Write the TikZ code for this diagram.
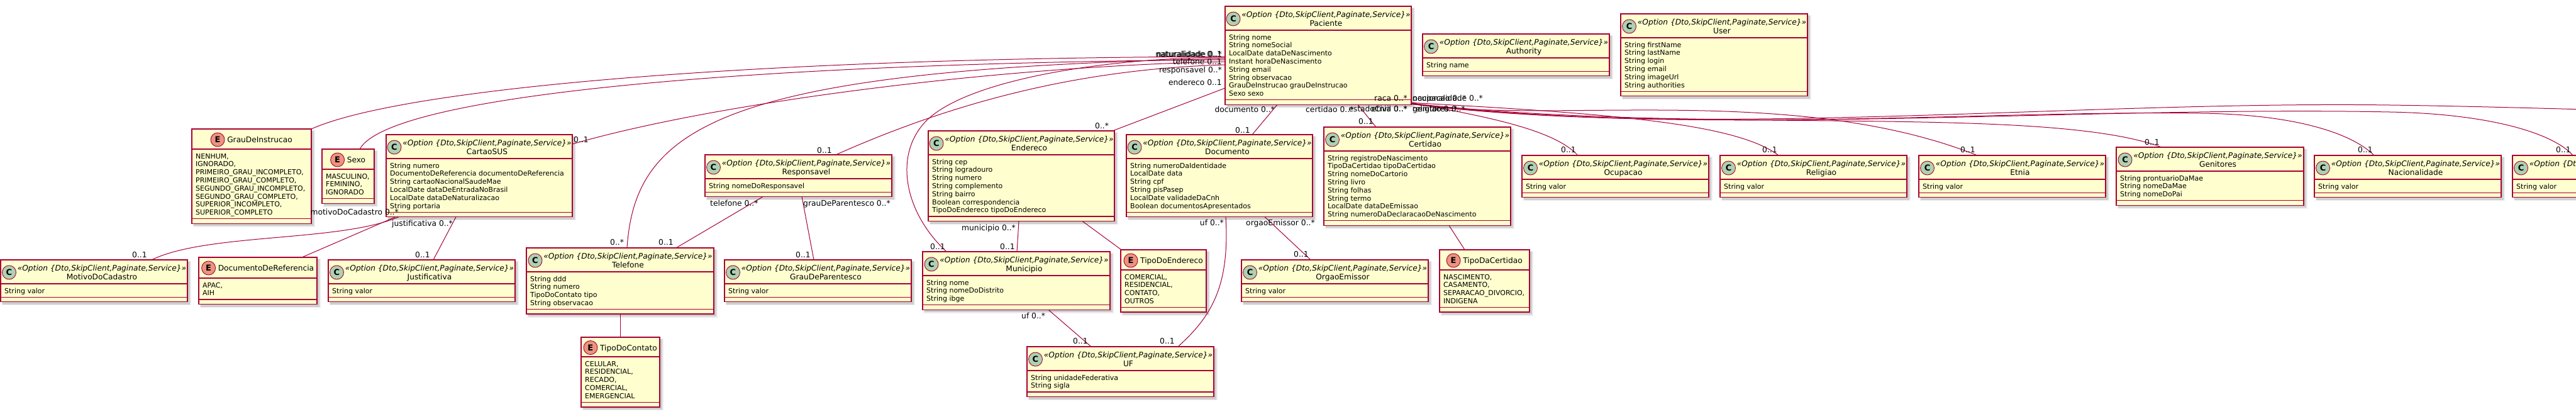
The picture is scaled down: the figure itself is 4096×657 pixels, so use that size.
\documentclass[tikz,border=0pt]{standalone}
\usepackage{fontspec}
\setmainfont{DejaVu Sans}
\usetikzlibrary{calc}
\definecolor{bord}{HTML}{A80036}
\definecolor{boxfill}{HTML}{FEFECE}
\definecolor{ciconc}{HTML}{ADD1B2}
\definecolor{eiconc}{HTML}{EB937F}
\newcommand{\fnfield}{\fontsize{11}{12.8}\selectfont}
\newcommand{\fnhead}{\fontsize{12.2}{14}\selectfont}
\newcommand{\fnlab}{\fontsize{12.3}{14}\selectfont}
\newcommand{\fnicon}{\fontsize{13}{13}\selectfont\bfseries}
\newcommand{\stereotxt}{«Option \{Dto,SkipClient,Paginate,Service\}»}
\pgfdeclarelayer{bg}
\pgfsetlayers{bg,main}
\tikzset{
  umlbox/.style={draw=bord, fill=boxfill, line width=1.4pt, inner sep=0pt, outer sep=0pt},
  divl/.style={draw=bord, line width=1.2pt},
  shadowa/.style={fill=black, opacity=0.07},
  shadowb/.style={fill=black, opacity=0.13},
  cic/.style={circle, draw=bord, line width=0.9pt, fill=ciconc, minimum size=22pt, inner sep=0pt, font=\fnicon},
  eic/.style={circle, draw=bord, line width=0.9pt, fill=eiconc, minimum size=22pt, inner sep=0pt, font=\fnicon},
  stereo/.style={font=\fnhead\itshape, inner sep=0pt},
  cname/.style={font=\fnhead, inner sep=0pt},
  fld/.style={font=\fnfield, inner sep=0pt},
  lab/.style={font=\fnlab, inner sep=0pt},
  assoc/.style={draw=bord, line width=1pt},
}
% id, x, y, w, header height, number of fields
\newcommand{\ubox}[6]{%
  \pgfmathsetmacro{\myBH}{#5+#6*12.8+15.9}%
  \fill[shadowa] (#2+2,#3+2) rectangle (#2+#4+5.5,#3+\myBH+5.5);
  \fill[shadowb] (#2+3,#3+3) rectangle (#2+#4+4,#3+\myBH+4);
  \node[umlbox, minimum width=#4pt, minimum height=\myBH pt, anchor=north west] (#1) at (#2,#3) {};
  \draw[divl] ($(#1.north west)+(0,#5)$) -- ($(#1.north east)+(0,#5)$);
  \draw[divl] ($(#1.south west)+(0,-7.5)$) -- ($(#1.south east)+(0,-7.5)$);
}
% class header: id, name
\newcommand{\chead}[2]{%
  \node[cic] (#1-ic) at ($(#1.north)+(-135,20)$) {C};
  \node[stereo, anchor=base] (#1-st) at ($(#1.north)+(12.5,17)$) {\stereotxt};
  \node[cname, anchor=base] (#1-nm) at ($(#1.north)+(12.5,31)$) {#2};
}
% enum header: id, name, center y offset
\newcommand{\ehead}[3]{%
  \node[cname, text height=9pt, text depth=0pt, anchor=center] (#1-nm) at ($(#1.north)+(13,#3)$) {#2};
  \node[eic] (#1-ic) at ($(#1-nm.west)+(-15,0)$) {E};
}
% fields: id, header height, lines
\newcommand{\ufields}[3]{%
  \node[fld, anchor=base west] (#1-f) at ($(#1.north west)+(6,#2+15)$) {\begin{tabular}[t]{@{}l@{}}#3\end{tabular}};
}
\begin{document}
\begin{tikzpicture}[x=1pt,y=-1pt]
\useasboundingbox (0,0) rectangle (4096,657);

\ubox{motivo}{1}{413}{297}{38}{1}
\chead{motivo}{MotivoDoCadastro}
\ufields{motivo}{38}{String valor}

\ubox{grau}{305}{205}{190}{32}{8}
\ehead{grau}{GrauDeInstrucao}{17}
\ufields{grau}{32}{NENHUM,\\IGNORADO,\\PRIMEIRO\_GRAU\_INCOMPLETO,\\PRIMEIRO\_GRAU\_COMPLETO,\\SEGUNDO\_GRAU\_INCOMPLETO,\\SEGUNDO\_GRAU\_COMPLETO,\\SUPERIOR\_INCOMPLETO,\\SUPERIOR\_COMPLETO}

\ubox{sexo}{512}{237}{83}{32}{3}
\ehead{sexo}{Sexo}{17}
\ufields{sexo}{32}{MASCULINO,\\FEMININO,\\IGNORADO}

\ubox{docref}{316}{409}{188}{33}{2}
\ehead{docref}{DocumentoDeReferencia}{17}
\ufields{docref}{33}{APAC,\\AIH}

\ubox{cartao}{614}{214}{296}{38}{6}
\chead{cartao}{CartaoSUS}
\ufields{cartao}{38}{String numero\\DocumentoDeReferencia documentoDeReferencia\\String cartaoNacionalSaudeMae\\LocalDate dataDeEntradaNoBrasil\\LocalDate dataDeNaturalizacao\\String portaria}

\ubox{justif}{522}{413}{297}{38}{1}
\chead{justif}{Justificativa}
\ufields{justif}{38}{String valor}

\ubox{telefone}{837}{394}{298}{38}{4}
\chead{telefone}{Telefone}
\ufields{telefone}{38}{String ddd\\String numero\\TipoDoContato tipo\\String observacao}

\ubox{tipocont}{924}{536}{125}{31}{5}
\ehead{tipocont}{TipoDoContato}{16.5}
\ufields{tipocont}{31}{CELULAR,\\RESIDENCIAL,\\RECADO,\\COMERCIAL,\\EMERGENCIAL}

\ubox{resp}{1121}{246}{297}{38}{1}
\chead{resp}{Responsavel}
\ufields{resp}{38}{String nomeDoResponsavel}

\ubox{grauparent}{1152}{413}{297}{38}{1}
\chead{grauparent}{GrauDeParentesco}
\ufields{grauparent}{38}{String valor}

\ubox{endereco}{1476}{208}{296}{38}{7}
\chead{endereco}{Endereco}
\ufields{endereco}{38}{String cep\\String logradouro\\String numero\\String complemento\\String bairro\\Boolean correspondencia\\TipoDoEndereco tipoDoEndereco}

\ubox{municipio}{1467}{400}{298}{38}{3}
\chead{municipio}{Municipio}
\ufields{municipio}{38}{String nome\\String nomeDoDistrito\\String ibge}

\ubox{tipoend}{1782}{397}{136}{32}{4}
\ehead{tipoend}{TipoDoEndereco}{17}
\ufields{tipoend}{32}{COMERCIAL,\\RESIDENCIAL,\\CONTATO,\\OUTROS}

\ubox{uf}{1633}{551}{297}{38}{2}
\chead{uf}{UF}
\ufields{uf}{38}{String unidadeFederativa\\String sigla}

\ubox{documento}{1791}{214}{296}{38}{6}
\chead{documento}{Documento}
\ufields{documento}{38}{String numeroDaIdentidade\\LocalDate data\\String cpf\\String pisPasep\\LocalDate validadeDaCnh\\Boolean documentosApresentados}

\ubox{paciente}{1948}{10}{296}{38}{8}
\chead{paciente}{Paciente}
\ufields{paciente}{38}{String nome\\String nomeSocial\\LocalDate dataDeNascimento\\Instant horaDeNascimento\\String email\\String observacao\\GrauDeInstrucao grauDeInstrucao\\Sexo sexo}

\ubox{orgao}{1974}{413}{297}{38}{1}
\chead{orgao}{OrgaoEmissor}
\ufields{orgao}{38}{String valor}

\ubox{certidao}{2105}{202}{297}{38}{8}
\chead{certidao}{Certidao}
\ufields{certidao}{38}{String registroDeNascimento\\TipoDaCertidao tipoDaCertidao\\String nomeDoCartorio\\String livro\\String folhas\\String termo\\LocalDate dataDeEmissao\\String numeroDaDeclaracaoDeNascimento}

\ubox{tipocert}{2289}{397}{143}{32}{4}
\ehead{tipocert}{TipoDaCertidao}{17}
\ufields{tipocert}{32}{NASCIMENTO,\\CASAMENTO,\\SEPARACAO\_DIVORCIO,\\INDIGENA}

\ubox{authority}{2262}{54}{297}{38}{1}
\chead{authority}{Authority}
\ufields{authority}{38}{String name}

\ubox{user}{2577}{22}{297}{38}{6}
\chead{user}{User}
\ufields{user}{38}{String firstName\\String lastName\\String login\\String email\\String imageUrl\\String authorities}

\ubox{ocupacao}{2420}{247}{297}{38}{1}
\chead{ocupacao}{Ocupacao}
\ufields{ocupacao}{38}{String valor}

\ubox{religiao}{2735}{247}{297}{38}{1}
\chead{religiao}{Religiao}
\ufields{religiao}{38}{String valor}

\ubox{etnia}{3051}{247}{297}{38}{1}
\chead{etnia}{Etnia}
\ufields{etnia}{38}{String valor}

\ubox{genitores}{3365}{234}{298}{38}{3}
\chead{genitores}{Genitores}
\ufields{genitores}{38}{String prontuarioDaMae\\String nomeDaMae\\String nomeDoPai}

\ubox{nacional}{3680}{247}{297}{38}{1}
\chead{nacional}{Nacionalidade}
\ufields{nacional}{38}{String valor}

\ubox{raca}{3995}{247}{297}{38}{1}
\node[cic] (raca-ic) at ($(raca.north)+(-135,20)$) {C};
\node[stereo, anchor=base] (raca-st) at ($(raca.north)+(12.5,17)$) {\stereotxt};
\ufields{raca}{38}{String valor}

\coordinate (offright) at (4260,178);

\begin{pgfonlayer}{bg}
% left side of Paciente
\draw[assoc] (grau.north east) .. controls (640,140) and (1200,92) .. ($(paciente.north west)+(0,80)$);
\draw[assoc] ($(sexo.north west)+(60,0)$) .. controls (620,150) and (1200,100) .. ($(paciente.north west)+(0,85)$);
\draw[assoc] ($(cartao.north east)+(0,15)$) .. controls (1150,160) and (1600,105) .. ($(paciente.north west)+(0,88)$);
\draw[assoc] ($(telefone.north west)+(160,0)$) .. controls (1010,200) and (1150,110) .. ($(paciente.north west)+(0,83)$);
\draw[assoc] ($(resp.north west)+(208,0)$) .. controls (1500,170) and (1700,110) .. ($(paciente.north west)+(0,93)$);
\draw[assoc] ($(municipio.north west)+(38,0)$) .. controls (1440,340) and (1420,250) .. (1470,195) .. controls (1530,129) and (1750,92) .. ($(paciente.north west)+(0,81)$);
\draw[assoc] ($(endereco.north east)+(-3,0)$) -- ($(paciente.north west)+(0,130)$);
\draw[assoc] ($(documento.north west)+(200,0)$) -- ($(paciente.south west)+(83,0)$);
\draw[assoc] ($(certidao.north west)+(83,0)$) -- ($(paciente.south west)+(211,0)$);
% lower associations
\draw[assoc] ($(cartao.south west)+(20,0)$) .. controls (540,385) and (330,370) .. ($(motivo.north west)+(240,0)$);
\draw[assoc] ($(cartao.south west)+(15,0)$) -- ($(docref.north west)+(164,0)$);
\draw[assoc] ($(cartao.south west)+(111,0)$) -- ($(justif.north west)+(167,0)$);
\draw[assoc] ($(telefone.north west)+(238,0)$) -- ($(resp.south west)+(92,0)$);
\draw[assoc] ($(resp.south west)+(154,0)$) -- ($(grauparent.north west)+(142,0)$);
\draw[assoc] ($(telefone.south west)+(149,0)$) -- ($(tipocont.north west)+(62,0)$);
\draw[assoc] ($(endereco.south west)+(144,0)$) -- ($(municipio.north west)+(150,0)$);
\draw[assoc] ($(endereco.south west)+(245,0)$) -- ($(tipoend.north west)+(1,0)$);
\draw[assoc] ($(municipio.south west)+(200,0)$) -- ($(uf.north west)+(102,0)$);
\draw[assoc] ($(documento.south west)+(158,0)$) .. controls (1955,450) and (1930,500) .. ($(uf.north west)+(240,0)$);
\draw[assoc] ($(documento.south west)+(220,0)$) -- ($(orgao.north west)+(110,0)$);
\draw[assoc] ($(certidao.south west)+(199,0)$) -- ($(tipocert.north west)+(40,0)$);
% right bundle
\draw[assoc] ($(paciente.south east)+(0,-3)$) .. controls (2360,185) and (2470,205) .. ($(ocupacao.north west)+(89,0)$);
\draw[assoc] ($(paciente.south east)+(0,-3)$) .. controls (2550,180) and (2760,195) .. ($(religiao.north west)+(93,0)$);
\draw[assoc] ($(paciente.south east)+(0,-2)$) .. controls (2450,200) and (2850,130) .. ($(etnia.north west)+(93,0)$);
\draw[assoc] ($(paciente.south east)+(0,-2)$) .. controls (2700,215) and (3250,165) .. ($(genitores.north west)+(72,0)$);
\draw[assoc] ($(paciente.south east)+(0,-1)$) .. controls (2700,215) and (3150,175) .. (3500,180) .. controls (3650,182) and (3740,212) .. ($(nacional.north west)+(95,0)$);
\draw[assoc] ($(paciente.south east)+(0,-1)$) .. controls (2700,220) and (3300,168) .. (3800,178) .. controls (3960,181) and (4060,212) .. ($(raca.north west)+(96,0)$);
\draw[assoc] ($(paciente.south east)+(0,-1)$) .. controls (2700,222) and (3300,160) .. (3800,167) .. controls (3950,169) and (4100,174) .. (offright);
\end{pgfonlayer}

% labels
\node[lab, anchor=base east] (l1) at (1943,90.5) {naturalidade 0..*};
\node[lab, anchor=base east] (l1b) at (1943,90.5) {naturalidade 0..1};
\node[lab, anchor=base east] (l2) at (1943,102.5) {telefone 0..1};
\node[lab, anchor=base east] (l3) at (1943,115.5) {responsavel 0..*};
\node[lab, anchor=base east] (l4) at (1943,135.5) {endereco 0..1};
\node[lab, anchor=base east] (l5) at (2027,178.5) {documento 0..*};
\node[lab, anchor=base west] (l6) at (2076,178.5) {certidao 0..*};
\node[lab, anchor=base east] (l7) at (2238,160.5) {raca 0..*};
\node[lab, anchor=base east] (l8) at (2238,177.5) {estadoCivil 0..*};
\node[lab, anchor=base east] (l9) at (2238,177.5) {etnia 0..*};
\node[lab, anchor=base west] (l10) at (2246,160.5) {ocupacao 0..*};
\node[lab, anchor=base west] (l11) at (2246,160.5) {nacionalidade 0..*};
\node[lab, anchor=base west] (l12) at (2246,177.5) {religiao 0..*};
\node[lab, anchor=base west] (l13) at (2246,177.5) {genitores 0..*};
\node[lab, anchor=base west] (l14) at (912,226.5) {0..1};
\node[lab, anchor=base east] (l15) at (634,341.5) {motivoDoCadastro 0..*};
\node[lab, anchor=base west] (l16) at (623,359.5) {justificativa 0..*};
\node[lab, anchor=base west] (l17) at (210,409.5) {0..1};
\node[lab, anchor=base west] (l18) at (660,409.5) {0..1};
\node[lab, anchor=base west] (l19) at (970,389.5) {0..*};
\node[lab, anchor=base west] (l20) at (1047,389.5) {0..1};
\node[lab, anchor=base west] (l21) at (1299,243.5) {0..1};
\node[lab, anchor=base west] (l22) at (1129,327.5) {telefone 0..*};
\node[lab, anchor=base west] (l23) at (1277,327.5) {grauDeParentesco 0..*};
\node[lab, anchor=base west] (l24) at (1265,409.5) {0..1};
\node[lab, anchor=base west] (l25) at (1741,204.5) {0..*};
\node[lab, anchor=base east] (l26) at (1615,366.5) {municipio 0..*};
\node[lab, anchor=base west] (l27) at (1590,396.5) {0..1};
\node[lab, anchor=base west] (l28) at (1479,396.5) {0..1};
\node[lab, anchor=base west] (l29) at (1624,506.5) {uf 0..*};
\node[lab, anchor=base west] (l30) at (1706,546.5) {0..1};
\node[lab, anchor=base west] (l31) at (1844,546.5) {0..1};
\node[lab, anchor=base west] (l32) at (1964,211.5) {0..1};
\node[lab, anchor=base east] (l33) at (1946,358.5) {uf 0..*};
\node[lab, anchor=base west] (l34) at (1981,358.5) {orgaoEmissor 0..*};
\node[lab, anchor=base west] (l35) at (2057,408.5) {0..1};
\node[lab, anchor=base west] (l36) at (2160,197.5) {0..1};
\node[lab, anchor=base west] (l37) at (2482,242.5) {0..1};
\node[lab, anchor=base west] (l38) at (2802,242.5) {0..1};
\node[lab, anchor=base west] (l39) at (3117,242.5) {0..1};
\node[lab, anchor=base west] (l40) at (3410,230.5) {0..1};
\node[lab, anchor=base west] (l41) at (3749,242.5) {0..1};
\node[lab, anchor=base west] (l42) at (4064,242.5) {0..1};
\end{tikzpicture}
\end{document}
